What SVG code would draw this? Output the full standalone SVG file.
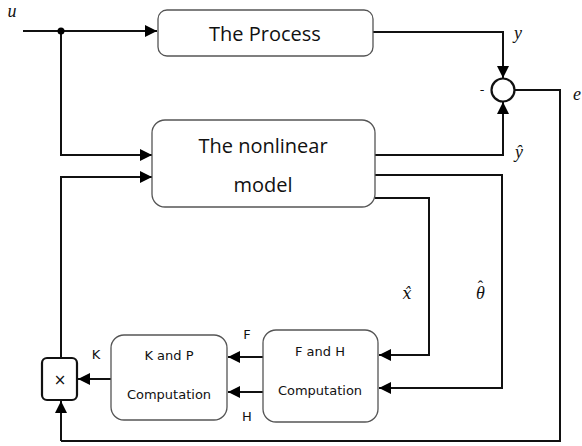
<svg xmlns="http://www.w3.org/2000/svg" width="582" height="446" viewBox="0 0 582 446">
<defs>
<marker id="ah" markerWidth="12" markerHeight="12" viewBox="0 0 12 12" refX="12" refY="6" orient="auto" markerUnits="userSpaceOnUse">
<path d="M0,0 L12,6 L0,12 Z" fill="#000"/>
</marker>
</defs>
<style>
.box{fill:#fff;stroke:#555;stroke-width:1.3}
.big{font-family:"Open Sans","Liberation Sans",sans-serif;font-size:20px;fill:#111;text-anchor:middle}
.sm{font-family:"DejaVu Sans","Liberation Sans",sans-serif;font-size:13px;fill:#111;text-anchor:middle}
.math{font-family:"Liberation Serif",serif;font-style:italic;font-size:18px;fill:#111;text-anchor:middle}
.mh{font-family:"DejaVu Serif",serif;font-style:italic;font-size:16px;fill:#111;text-anchor:middle}
.mt{font-family:"Liberation Serif",serif;font-style:italic;font-size:18px;fill:#111}
.hat{font-style:normal;font-size:16px}
.ln{fill:none;stroke:#111;stroke-width:2}
.arr{fill:none;stroke:#111;stroke-width:2;marker-end:url(#ah)}
</style>
<g id="connectors">
<path class="arr" d="M23,31 H157"/>
<path class="arr" d="M61,31 V155 H152"/>
<circle cx="61" cy="31" r="3.5" fill="#000"/>
<path class="arr" d="M373,32 H503 V78"/>
<path class="arr" d="M375,155 H503 V102"/>
<path class="ln" d="M515,90 H560 V441 H61"/>
<path class="arr" d="M61,441 V401"/>
<path class="arr" d="M61,357 V177 H152"/>
<path class="arr" d="M375,198 H429 V355 H379"/>
<path class="arr" d="M375,175 H502 V388 H379"/>
<path class="arr" d="M263,357 H228"/>
<path class="arr" d="M263,392 H228"/>
<path class="arr" d="M111,379 H78"/>
</g>
<g id="process">
<rect class="box" x="158" y="10" width="215" height="46" rx="9"/>
<text class="big" x="265" y="41">The Process</text>
</g>
<g id="model">
<rect class="box" x="152" y="120" width="223" height="87" rx="13"/>
<text class="big" x="263" y="153">The nonlinear</text>
<text class="big" x="263" y="192">model</text>
</g>
<g id="sum">
<circle cx="503" cy="90" r="11.5" fill="#fff" stroke="#111" stroke-width="2.2"/>
<text class="sm" x="482" y="94">-</text>
</g>
<g id="mult">
<rect x="42" y="358" width="35" height="42" rx="5" fill="#fff" stroke="#111" stroke-width="2.2"/>
<text class="sm" x="60" y="385" style="font-size:15px">×</text>
</g>
<g id="kp">
<rect class="box" x="111" y="335" width="116" height="85" rx="13"/>
<text class="sm" x="169" y="360">K and P</text>
<text class="sm" x="169" y="399">Computation</text>
</g>
<g id="fh">
<rect class="box" x="263" y="330" width="115" height="92" rx="13"/>
<text class="sm" x="320" y="356">F and H</text>
<text class="sm" x="320" y="395">Computation</text>
</g>
<g id="labels">
<text class="math" x="12" y="17">u</text>
<text class="math" x="518" y="39">y</text>
<text class="math" x="577" y="100">e</text>
<text class="math" x="519" y="158">ŷ</text>
<text class="mh" x="407" y="299">x̂</text>
<text class="mt" x="476" y="299">θ<tspan class="hat" dx="-7" dy="-7">ˆ</tspan></text>
<text class="sm" x="96" y="359">K</text>
<text class="sm" x="247" y="339">F</text>
<text class="sm" x="247" y="421">H</text>
</g>
</svg>
